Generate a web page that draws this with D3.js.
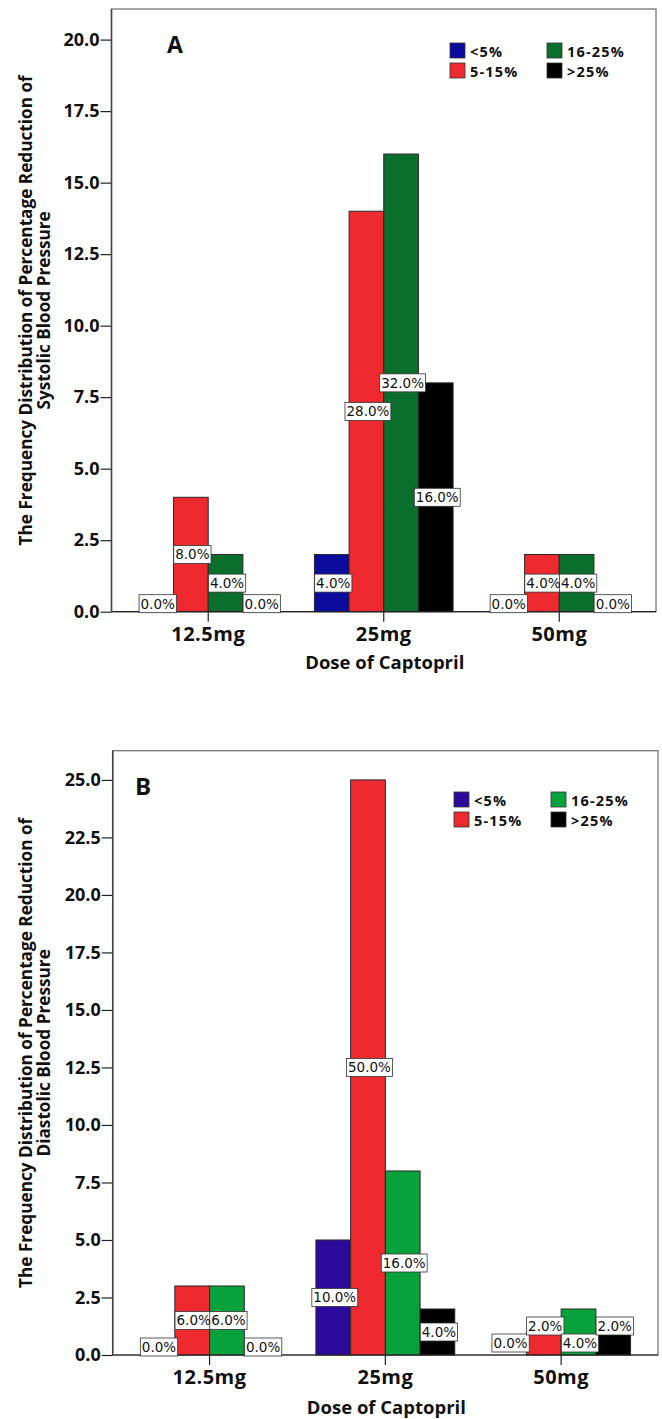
<!DOCTYPE html>
<html>
<head>
<meta charset="utf-8">
<script src="https://cdn.jsdelivr.net/npm/d3@7"></script>
<style>
  body { margin: 0; background: #fff; }
  svg { display: block; }
  .tick text { font-family: "Open Sans", sans-serif; font-weight: 700; }
</style>
</head>
<body>
<div id="chart"></div>
<script>
const width = 662;
const height = 1419;

// categories and series names
const doses = ['12.5mg', '25mg', '50mg'];
const groups = ['<5%', '5-15%', '16-25%', '>25%'];

// panel A: systolic, counts per group (in dose order)
const sbpCounts = [
    [0, 2, 0],
    [4, 14, 2],
    [2, 16, 2],
    [0, 8, 0]
];
const sbpPct = [
    ['0.0%', '4.0%', '0.0%'],
    ['8.0%', '28.0%', '4.0%'],
    ['4.0%', '32.0%', '4.0%'],
    ['0.0%', '16.0%', '0.0%']
];
const sbpTicks = [0, 2.5, 5, 7.5, 10, 12.5, 15, 17.5, 20];

// panel B: diastolic
const dbpCounts = [
    [0, 5, 0],
    [3, 25, 1],
    [3, 8, 2],
    [0, 2, 1]
];
const dbpPct = [
    ['0.0%', '10.0%', '0.0%'],
    ['6.0%', '50.0%', '2.0%'],
    ['6.0%', '16.0%', '4.0%'],
    ['0.0%', '4.0%', '2.0%']
];
const dbpTicks = [0, 2.5, 5, 7.5, 10, 12.5, 15, 17.5, 20, 22.5, 25];

const colorsA = ['#0b0b9e', '#ee2a30', '#0a6e2c', '#000000'];
const colorsB = ['#2c0b9c', '#ee2a30', '#08a23c', '#000000'];

const svg = d3.select('#chart')
    .append('svg')
    .attr('width', width)
    .attr('height', height);

function drawPanel(cfg) {
    const g = svg.append('g');

    const y = d3.scaleLinear()
        .domain([0, cfg.yMax])
        .range([cfg.bottom, cfg.top]);

    const x0 = d3.scaleBand()
        .domain(doses)
        .range([cfg.left, cfg.right])
        .paddingInner(0.21)
        .paddingOuter(0.156);

    const x1 = d3.scaleBand()
        .domain(groups)
        .range([0, x0.bandwidth()]);

    // frame
    g.append('rect')
        .attr('x', cfg.left)
        .attr('y', cfg.top)
        .attr('width', cfg.right - cfg.left)
        .attr('height', cfg.bottom - cfg.top)
        .attr('fill', 'none')
        .attr('stroke', '#777')
        .attr('stroke-width', 1.3);

    // bars
    const data = [];
    groups.forEach((grp, gi) => {
        doses.forEach((dose, di) => {
            data.push({ grp, gi, dose, di, v: cfg.counts[gi][di], pct: cfg.pct[gi][di] });
        });
    });

    g.append('g')
        .selectAll('rect')
        .data(data)
        .join('rect')
            .attr('x', d => x0(d.dose) + x1(d.grp))
            .attr('y', d => y(d.v))
            .attr('width', x1.bandwidth())
            .attr('height', d => y(0) - y(d.v))
            .attr('fill', d => cfg.colors[d.gi])
            .attr('stroke', '#2a2a2a')
            .attr('stroke-width', 1);

    // x axis line and ticks
    g.append('line')
        .attr('x1', cfg.left).attr('x2', cfg.right)
        .attr('y1', y(0)).attr('y2', y(0))
        .attr('stroke', '#222').attr('stroke-width', 1.2);

    const xAxis = g.append('g')
        .attr('transform', `translate(0,${y(0)})`)
        .call(d3.axisBottom(x0).tickSize(10).tickPadding(5));
    xAxis.select('.domain').remove();
    xAxis.selectAll('.tick line').attr('stroke', '#222').attr('stroke-width', 1.2);
    xAxis.selectAll('.tick text')
        .attr('fill', '#111')
        .style('font-size', '20px')
        .style('letter-spacing', '0.5px');

    // y axis
    const yAxis = g.append('g')
        .attr('transform', `translate(${cfg.left},0)`)
        .call(d3.axisLeft(y).tickValues(cfg.ticks).tickFormat(d3.format('.1f')).tickSize(11).tickPadding(1));
    yAxis.select('.domain').remove();
    yAxis.selectAll('.tick line').attr('stroke', '#222').attr('stroke-width', 1.2);
    yAxis.selectAll('.tick text')
        .attr('fill', '#111')
        .style('font-size', '18px');

    g.append('line')
        .attr('x1', cfg.left).attr('x2', cfg.left)
        .attr('y1', cfg.top).attr('y2', cfg.bottom)
        .attr('stroke', '#444').attr('stroke-width', 1.5);

    // value labels
    const boxH = 18;
    const labels = g.append('g');
    doses.forEach((dose, di) => {
        const items = data.filter(d => d.di === di);
        items.forEach(d => {
            d.cx = x0(dose) + x1(d.grp) + x1.bandwidth() / 2 + 1.5;
            d.ly = Math.min(y(d.v / 2), y(0) - 8);
            const t = labels.append('text')
                .attr('x', d.cx)
                .attr('y', d.ly)
                .attr('text-anchor', 'middle')
                .attr('dominant-baseline', 'central')
                .style('font-family', 'DejaVu Sans, sans-serif')
                .style('font-size', '13.5px')
                .attr('fill', '#111')
                .text(d.pct);
            d.w = t.node().getComputedTextLength() + 3;
            d.node = t;
        });
        // collisions between neighbouring labels at different heights
        let clash = false;
        for (let i = 0; i < items.length - 1; i++) {
            const a = items[i], b = items[i + 1];
            const dx = (a.w + b.w) / 2 - Math.abs(a.cx - b.cx);
            const dy = Math.abs(a.ly - b.ly);
            if (dx > 0 && dy > 3 && dy < boxH) clash = true;
        }
        if (clash) {
            items.forEach((d, i) => {
                d.ly = i % 2 === 0 ? y(0) - 12 : y(0) - 29;
            });
        }
        items.forEach(d => {
            d.node.attr('y', d.ly);
            labels.insert('rect', 'text')
                .attr('x', d.cx - d.w / 2)
                .attr('y', d.ly - boxH / 2)
                .attr('width', d.w)
                .attr('height', boxH)
                .attr('fill', '#fff')
                .attr('stroke', '#333')
                .attr('stroke-width', 0.8);
        });
    });

    // panel letter
    g.append('text')
        .attr('x', cfg.letterX)
        .attr('y', cfg.letterY)
        .style('font-family', 'Open Sans, sans-serif')
        .style('font-weight', 700)
        .style('font-size', cfg.letterSize + 'px')
        .attr('fill', '#111')
        .text(cfg.letter);

    // legend
    const lg = g.append('g').attr('transform', `translate(${cfg.legendX},${cfg.legendY})`);
    groups.forEach((grp, i) => {
        const col = Math.floor(i / 2);
        const row = i % 2;
        const item = lg.append('g')
            .attr('transform', `translate(${col * 97},${row * 20})`);
        item.append('rect')
            .attr('width', 15).attr('height', 15)
            .attr('fill', cfg.colors[i])
            .attr('stroke', '#333').attr('stroke-width', 0.8);
        item.append('text')
            .attr('x', 20).attr('y', 13.5)
            .style('font-family', 'Open Sans, sans-serif')
            .style('font-weight', 700)
            .style('font-size', '14.5px')
            .style('letter-spacing', '1.2px')
            .attr('fill', '#111')
            .text(grp);
    });

    // axis titles
    const midY = (cfg.top + cfg.bottom) / 2;
    cfg.yTitle.forEach((line, i) => {
        g.append('text')
            .attr('transform', `translate(${cfg.yTitleX + i * 18},${midY}) rotate(-90)`)
            .attr('text-anchor', 'middle')
            .attr('dominant-baseline', 'central')
            .style('font-family', 'Open Sans, sans-serif')
            .style('font-weight', 700)
            .style('font-size', '17.2px')
            .attr('fill', '#111')
            .text(line);
    });

    g.append('text')
        .attr('x', (cfg.left + cfg.right) / 2 + 1)
        .attr('y', cfg.xTitleY)
        .attr('text-anchor', 'middle')
        .attr('dominant-baseline', 'central')
        .style('font-family', 'Open Sans, sans-serif')
        .style('font-weight', 700)
        .style('font-size', '18.5px')
        .attr('fill', '#111')
        .text('Dose of Captopril');
}

drawPanel({
    left: 111.5, right: 656, top: 9, bottom: 611.7, yMax: 21.07,
    counts: sbpCounts, pct: sbpPct, ticks: sbpTicks, colors: colorsA,
    letter: 'A', letterX: 167, letterY: 53, letterSize: 23,
    legendX: 450, legendY: 43,
    yTitle: ['The Frequency Distribution of Percentage Reduction of', 'Systolic Blood Pressure'],
    yTitleX: 25, xTitleY: 661
});

drawPanel({
    left: 112.7, right: 658, top: 750.7, bottom: 1355, yMax: 26.27,
    counts: dbpCounts, pct: dbpPct, ticks: dbpTicks, colors: colorsB,
    letter: 'B', letterX: 135, letterY: 795, letterSize: 24,
    legendX: 454, legendY: 792,
    yTitle: ['The Frequency Distribution of Percentage Reduction of', 'Diastolic Blood Pressure'],
    yTitleX: 25, xTitleY: 1406
});
</script>
</body>
</html>
